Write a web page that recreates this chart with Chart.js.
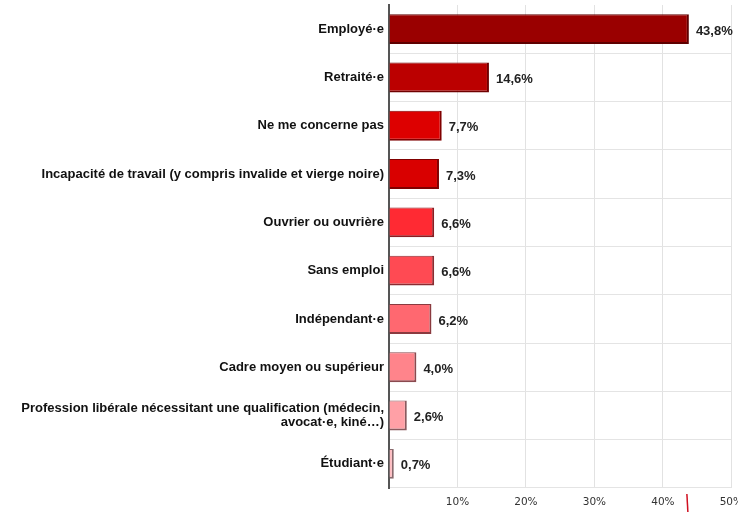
<!DOCTYPE html>
<html>
<head>
<meta charset="utf-8">
<script src="https://cdn.jsdelivr.net/npm/chart.js@4/dist/chart.umd.min.js"></script>
<style>
html,body{margin:0;padding:0;background:#fff;overflow:hidden;width:738px;height:512px;}
#wrap{position:absolute;left:0;top:0;width:751px;height:512px;}
</style>
</head>
<body>
<div id="wrap"><canvas id="c" width="751" height="512"></canvas></div>
<script>
const categories = [
  "Employé·e",
  "Retraité·e",
  "Ne me concerne pas",
  "Incapacité de travail (y compris invalide et vierge noire)",
  "Ouvrier ou ouvrière",
  "Sans emploi",
  "Indépendant·e",
  "Cadre moyen ou supérieur",
  ["Profession libérale nécessitant une qualification (médecin,", "avocat·e, kiné…)"],
  "Étudiant·e"
];
const values = [43.8, 14.6, 7.7, 7.3, 6.6, 6.6, 6.2, 4.0, 2.6, 0.7];
const valueLabels = ["43,8%", "14,6%", "7,7%", "7,3%", "6,6%", "6,6%", "6,2%", "4,0%", "2,6%", "0,7%"];
const tickValues = [10, 20, 30, 40, 50];
const barColors = ["#9a0000", "#bb0000", "#dd0000", "#d90000", "#ff2a33", "#ff4a53", "#ff6870", "#ff848b", "#ffa0a6", "#ffbcc1"];
const borderColors = ["#5e0000", "#700000", "#800000", "#800000", "#8a1d22", "#8a2c31", "#8a3a3f", "#8a4a4f", "#8a5a5e", "#8a6a6e"];

const valueLabelPlugin = {
  id: 'valueLabels',
  afterDatasetsDraw(chart) {
    const ctx = chart.ctx;
    const meta = chart.getDatasetMeta(0);
    ctx.save();
    ctx.font = 'bold 13px "Liberation Sans", Arial, sans-serif';
    ctx.fillStyle = '#222';
    ctx.textAlign = 'left';
    ctx.textBaseline = 'middle';
    meta.data.forEach((bar, i) => {
      ctx.fillText(valueLabels[i], bar.x + 7, bar.y + 2);
    });
    // red marker under the axis
    const xs = chart.scales.x;
    const px = xs.getPixelForValue(values[0]) - 2;
    ctx.strokeStyle = '#d01020';
    ctx.lineWidth = 1.5;
    ctx.beginPath();
    ctx.moveTo(px, 494);
    ctx.lineTo(px + 1, 512);
    ctx.stroke();
    ctx.restore();
  }
};

new Chart(document.getElementById('c'), {
  type: 'bar',
  data: {
    labels: categories,
    datasets: [{
      data: values,
      backgroundColor: barColors,
      borderColor: borderColors,
      borderWidth: {top: 1, left: 0, right: 2, bottom: 2},
      borderSkipped: false,
      categoryPercentage: 1,
      barPercentage: 0.62
    }]
  },
  options: {
    indexAxis: 'y',
    responsive: false,
    animation: false,
    devicePixelRatio: 1,
    layout: {padding: {top: 5, bottom: 0, left: 0, right: 0}},
    plugins: {legend: {display: false}, tooltip: {enabled: false}},
    scales: {
      x: {
        min: 0, max: 50,
        afterBuildTicks(s) { s.ticks = [0].concat(tickValues).map(v => ({value: v})); },
        afterFit(s) { s.height = 24; },
        ticks: {
          callback: v => v === 0 ? '' : v + '%',
          color: '#333',
          font: {family: '"DejaVu Sans", sans-serif', size: 10.5},
          padding: 8,
          maxRotation: 0
        },
        grid: {color: '#e2e2e2', lineWidth: 1, drawTicks: false},
        border: {display: false}
      },
      y: {
        afterFit(s) { s.width = 389; s.paddingTop = 0; s.paddingBottom = 0; },
        ticks: {
          color: '#111',
          font: {family: '"Liberation Sans", Arial, sans-serif', size: 13, weight: 'bold', lineHeight: 1.05},
          padding: 5
        },
        grid: {
          color: ctx => (ctx.index === 0 || ctx.index === categories.length) ? 'rgba(0,0,0,0)' : '#e4e4e4',
          drawTicks: false
        },
        border: {display: true, color: '#555', width: 2}
      }
    }
  },
  plugins: [valueLabelPlugin]
});
</script>
</body>
</html>
